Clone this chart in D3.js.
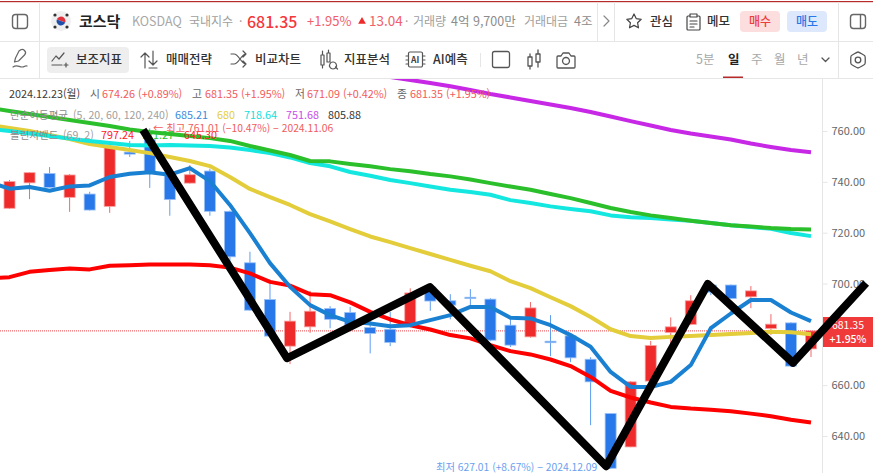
<!DOCTYPE html>
<html lang="ko"><head><meta charset="utf-8">
<script src="https://cdn.jsdelivr.net/npm/d3@7/dist/d3.min.js"></script>
<style>html,body{margin:0;padding:0;background:#fff;overflow:hidden}svg{display:block}text{font-family:"Noto Sans CJK KR","Noto Sans",sans-serif}</style>
</head><body><div id="chart"></div>
<script>
const opens=[729.6,739.6,743.3,733.9,735.2,730.35,751.7,756.6,743.5,739.5,744.25,728.4,708.15,693.7,675.35,682.95,690.2,688.6,682.7,682.0,683.6,698.6,693.2,694.6,693.85,683.6,679.0,677.3,679.4,670.2,648.85,635.7,661.6,680.75,683.9,699.4,699.4,694.75,682.3,684.5,674.26];
const closes=[740.1,743.6,737.8,742.7,728.9,753.6,750.9,743.85,733.0,742.8,728.4,710.5,689.5,679.3,685.2,689.1,685.9,683.6,680.35,676.8,696.3,693.1,691.5,694.05,677.7,675.75,690.4,676.7,670.75,661.3,627.3,661.3,675.6,682.95,693.2,696.6,694.1,697.1,684.0,667.5,681.35];
const highs=[740.7,743.85,745.8,743.1,736.1,754.6,756.1,761.01,745.4,746.6,745.15,728.7,712.5,701.6,688.85,697.1,691.1,690.8,685.6,688.85,698.1,700.15,695.8,697.8,694.2,686.4,692.7,687.55,679.7,671,648.9,661.6,677.4,686.65,695.4,700.15,699.6,699,687.95,684.8,681.35];
const lows=[729.3,733.2,737.6,728.2,728.7,727.8,749.8,737.6,726.65,739.3,726.65,708.5,689.3,679,668.3,680.6,682.4,682.4,672.5,675.35,683.2,689.25,685.9,691.1,677.3,675,678.7,671.4,669.05,644.25,627.01,635.6,661.4,675.75,683.6,695.4,693.85,690.3,679.7,667.1,671.09];
// moving averages and bands: first value sits one session left of the first candle
const ma5=[739.9,737.3,737.95,736.5,738.2,738.6,741.9,743.2,743.75,742.8,745.4,740.3,730.9,719.85,708.0,698.7,691.5,687.55,684.9,684.3,683.2,683.6,685.6,687.55,690.8,690.8,686.5,686.25,683.6,679.7,675.1,665.2,659.3,659.3,661.3,667.9,682.4,688.2,693.5,693.5,688.6,685.21];
const ma20=[762.4,761.2,760.0,758.4,756.85,754.9,753.7,752.5,751.3,749.8,748.2,746.2,741.9,737.2,734.0,730.9,727.3,724.4,721.4,718.5,716.3,713.9,711.6,709.3,707.0,704.8,700.9,698.2,694.6,691.1,686.8,682.0,679.3,678.6,679.0,679.3,679.7,680.1,680.5,681,680.8,680];
const ma60=[760.8,760,759,758,757,756.1,755.3,754.5,754.3,754.5,754.3,754.1,753.5,752.5,751.3,749.6,747.4,746.1,743.85,742.4,740.7,739.5,738.15,736.9,736.0,734.9,732.8,731.65,730.35,729.3,728.4,726.8,726.1,725.75,725.15,724.7,723.8,722.9,722.2,721.5,719.85,718.64];
const bandMid=[769.05,767.9,766.7,765.5,764.3,763.15,762,760.6,759.6,758.8,758,757.2,756.1,754.1,752.3,750.55,748.2,748.05,747,746.1,745,744.15,743.05,742.15,740.9,739.5,738.15,736.9,735.2,733.6,731.65,729.7,728.1,726.8,725.75,724.7,723.8,722.9,722.4,721.8,721.4,721.27];
const bandLow=[702.1,702.5,704.6,705.3,705.9,705.55,707,707.2,707.45,707.5,707.5,707.2,706.25,704,700.65,699.15,695.8,695.4,692.55,688.85,685.85,683.6,681.9,679.7,678.4,675.75,673.4,672.1,670.1,667.5,663.25,657.75,655.15,653.2,651.45,650.8,650.35,649.75,648.8,647.8,646.4,645.30];
// 120-day average: first value belongs to session 18
const ma120Start=18;
const ma120=[782.8,781.25,780.1,778.9,777.6,776.1,774.55,773.2,771.8,770.4,769.05,767.5,765.7,763.9,762.15,760.4,759,757.85,756.65,755.05,753.7,752.5,751.68];
// hand-drawn black zigzag over the chart
const zigIdx=[6.66,13.85,20.98,29.78,34.85,39.1,42.75];
const zigVal=[760.4,670.6,698.6,628.1,699.8,668.8,700.15];
const yTicks=[760,740,720,700,680,660,640];
const lastPrice=681.35;

const W=873,H=473;
const RED="#ee2a2a",BLUE="#2878ea",TXT="#f25b5b",GR="#8e8e8e",DK="#3a3a3a",LINE="#e6e6e6";
const svg=d3.select("#chart").append("svg").attr("width",W).attr("height",H);
const x=d3.scaleLinear().domain([0,40]).range([9.5,811]);
const y=d3.scaleLinear().domain([760,640]).range([131,436]);
svg.append("defs").append("clipPath").attr("id","plot").append("rect").attr("x",0).attr("y",79).attr("width",822).attr("height",H-79);
const plot=svg.append("g").attr("clip-path","url(#plot)");

// price guide
plot.append("line").attr("x1",0).attr("x2",822).attr("y1",y(lastPrice)).attr("y2",y(lastPrice)).attr("stroke","#e8464a").attr("stroke-width",1).attr("stroke-dasharray","1 1");

// candles
const idx=d3.range(opens.length);
plot.selectAll("line.w").data(idx).join("line").attr("class","w")
 .attr("x1",i=>x(i)).attr("x2",i=>x(i)).attr("y1",i=>y(highs[i])).attr("y2",i=>y(lows[i]))
 .attr("stroke",i=>closes[i]>=opens[i]?"#f26a6a":"#5f9df0").attr("stroke-width",1);
plot.selectAll("rect.b").data(idx).join("rect").attr("class","b")
 .attr("x",i=>x(i)-5.5).attr("width",11)
 .attr("y",i=>y(Math.max(opens[i],closes[i])))
 .attr("height",i=>Math.max(1.2,Math.abs(y(opens[i])-y(closes[i]))))
 .attr("fill",i=>closes[i]>=opens[i]?RED:BLUE)
 .attr("stroke",i=>closes[i]>=opens[i]?"#f7a0a0":"#9cc2f5").attr("stroke-width",.8);

// lines
const mk=(arr,start)=>d3.line().x((d,i)=>x(i+start)).y(d=>y(d))(arr);
[[bandLow,-1,"#ff0000"],[ma20,-1,"#e3cd3a"],[ma60,-1,"#14e6e0"],[bandMid,-1,"#2cbf2c"],[ma120,ma120Start,"#c628e6"],[ma5,-1,"#1a80d2"]].forEach(([a,s,c])=>{
 plot.append("path").attr("d",mk(a,s)).attr("fill","none").attr("stroke",c).attr("stroke-width",4).attr("stroke-linejoin","round");
});

// axis
const ax=svg.append("g").attr("transform","translate(822.5,0)").call(d3.axisRight(y).tickValues(yTicks).tickFormat(d3.format(".2f")).tickSize(5).tickPadding(4));
ax.select(".domain").attr("d","M0,79V473").attr("stroke",LINE);
ax.selectAll(".tick line").attr("stroke",LINE);
ax.selectAll(".tick text").attr("fill","#666").style("font-size","11px").style("font-family","'Noto Sans CJK KR'");

// helpers
const t=(s,xx,yy,size,fill,weight,anchor)=>svg.append("text").attr("x",xx).attr("y",yy).attr("font-size",size).attr("fill",fill).attr("font-weight",weight||400).attr("text-anchor",anchor||"start").text(s);
const ic=(d,sw,col)=>svg.append("path").attr("d",d).attr("fill","none").attr("stroke",col||"#555").attr("stroke-width",sw||1.3).attr("stroke-linejoin","round").attr("stroke-linecap","round");

// price tag
svg.append("rect").attr("x",823).attr("y",317).attr("width",50).attr("height",30).attr("fill","#f03a3a");
t("681.35",848,329,10.5,"#fff",400,"middle");t("+1.95%",848,343,10.5,"#fff",500,"middle");

// legend rows
const r1=98,fs=10.8;
t("2024.12.23(월)",9,r1,fs,DK);t("시",90,r1,fs,"#666");t("674.26 (+0.89%)",102,r1,fs,TXT);
t("고",192,r1,fs,"#666");t("681.35 (+1.95%)",205,r1,fs,TXT);t("저",295,r1,fs,"#666");t("671.09 (+0.42%)",307,r1,fs,TXT);
t("종",397,r1,fs,"#666");t("681.35 (+1.95%)",410,r1,fs,TXT);
const r2=119;
t("단순이동평균",10,r2,10.5,"#8c8c8c");t("(5, 20, 60, 120, 240)",73,r2,10.6,"#a0a0a0");
t("685.21",175,r2,fs,"#3a8ae0");t("680",217,r2,fs,"#e3cd3a");t("718.64",244,r2,fs,"#14e0dc");t("751.68",286,r2,fs,"#c94be8");t("805.88",328,r2,fs,"#333");
const r3=139;
t("볼린저밴드",10,r3,10.5,"#8c8c8c");t("(69, 2)",63,r3,10.6,"#a0a0a0");
t("797.24",101,r3,fs,"#ff2020");t("721.27",141,r3,fs,"#2cbf2c");t("645.30",184,r3,fs,"#ff2020");
t("← 최고 761.01 (−10.47%) − 2024.11.06",153,132,10.3,"#f25b5b");
t("최저 627.01 (+8.67%) − 2024.12.09",436,471,10.3,"#6a9fef");

// zigzag runs over the price tag too
svg.append("path").attr("d",d3.line().x((d,i)=>x(zigIdx[i])).y(d=>y(d))(zigVal)).attr("fill","none").attr("stroke","#000").attr("stroke-width",8).attr("stroke-linejoin","round");

// header chrome
svg.append("rect").attr("x",0).attr("y",0).attr("width",W).attr("height",78).attr("fill","#fff");
svg.append("rect").attr("x",0).attr("y",1).attr("width",W).attr("height",1.2).attr("fill","#b72a2a");
[[0,41.5,W,41.5],[0,78.5,W,78.5],[39.5,2,39.5,78],[838.5,2,838.5,78],[597.5,2,597.5,41],[614.5,2,614.5,41]].forEach(a=>svg.append("line").attr("x1",a[0]).attr("y1",a[1]).attr("x2",a[2]).attr("y2",a[3]).attr("stroke",LINE));

// panel icons
[[12.5,14.5],[850.5,14.5]].forEach(([a,b],k)=>{svg.append("rect").attr("x",a).attr("y",b).attr("width",15).attr("height",14).attr("rx",3).attr("fill","none").attr("stroke","#666").attr("stroke-width",1.4);
 svg.append("line").attr("x1",a+(k?10:5)).attr("x2",a+(k?10:5)).attr("y1",b).attr("y2",b+14).attr("stroke","#666").attr("stroke-width",1.4);});
// flag
svg.append("circle").attr("cx",61).attr("cy",21).attr("r",10).attr("fill","#efefef");
svg.append("path").attr("d",d3.arc()({innerRadius:0,outerRadius:4.5,startAngle:-1.2,endAngle:1.94})).attr("transform","translate(61,21)").attr("fill","#e0313c");
svg.append("path").attr("d",d3.arc()({innerRadius:0,outerRadius:4.5,startAngle:1.94,endAngle:5.08})).attr("transform","translate(61,21)").attr("fill","#1f4fa8");
[[55,15],[67,15],[55,27],[67,27]].forEach(p=>svg.append("circle").attr("cx",p[0]).attr("cy",p[1]).attr("r",1.6).attr("fill","#333"));

t("코스닥",79,26.5,15,"#222",700);
t("KOSDAQ",132,26,12.5,"#a8a8a8");
t("국내지수",189,26,12,"#a0a0a0");t("·",239,26,12,"#a0a0a0");
t("681.35",247,27.5,16,"#f5373b",500);
t("+1.95%",307,26,13,"#f2606a");
svg.append("path").attr("d",d3.symbol().type(d3.symbolTriangle).size(26)()).attr("transform","translate(362,21.5)").attr("fill","#ee2a2a");
t("13.04",369,26,13.5,"#f2606a");t("·",405,26,12,"#a0a0a0");
t("거래량",413,26,12,"#a0a0a0");t("4억 9,700만",451,26,12.5,"#8c8c8c");
t("거래대금",524,26,12,"#a0a0a0");t("4조",574,26,12.5,"#8c8c8c");
ic("M604,16l5,5l-5,5",1.2,"#888");
ic("M634,14l2.2,4.6l5,.7l-3.6,3.5l.9,5l-4.5,-2.4l-4.5,2.4l.9,-5l-3.6,-3.5l5,-.7z",1.2,"#444");
t("관심",650,25.5,12.5,"#333",500);
ic("M689,16h-1a1,1 0 0 0 -1,1v12a1,1 0 0 0 1,1h11a1,1 0 0 0 1,-1v-12a1,1 0 0 0 -1,-1h-1M690,14h7v3h-7zM690,21h7M690,24h7M690,27h4",1.2,"#444");
t("메모",707,25.5,12.5,"#333",500);
svg.append("rect").attr("x",740).attr("y",11).attr("width",40).attr("height",21).attr("rx",4).attr("fill","#fddede");
t("매수",760,25.5,12,"#ee3b3b",500,"middle");
svg.append("rect").attr("x",787).attr("y",11).attr("width",40).attr("height",21).attr("rx",4).attr("fill","#dde8fd");
t("매도",807,25.5,12,"#2a78e8",500,"middle");

// row 2
ic("M19,51c2,-2 4,-2 5.5,-.5s1.5,3 0,4.5l-6,6l-4,1l1,-4zM13,67c4,-3 6,0 9,0s3,-2 5,-1",1.2,"#666");
svg.append("rect").attr("x",47).attr("y",47).attr("width",82).attr("height",26).attr("rx",4).attr("fill","#eeeeee");
ic("M52,61l4,-5l3,3l5,-6M52,65h10M64,65h4M66,63v4",1.2,"#555");
t("보조지표",76,63.5,12.5,"#333",500);
ic("M145,54v14M141,57l4,-4l4,4M153,51v13M149,61l4,4l4,-4M149,68h8",1.2,"#555");
t("매매전략",166,63.5,12.5,"#333",500);
ic("M231,54h3c5,0 7,10 12,10M231,64h3c5,0 7,-10 12,-10M243,51l3,3l-3,3M243,61l3,3l-3,3",1.2,"#555");
t("비교차트",255,63.5,12.5,"#333",500);
ic("M321,55h3v10h-3zM322.5,51v4M322.5,65v3M327,53h3v9h-3zM328.5,50v3M333,62a3.5,3.5 0 1 0 .01,0M335.5,67l2,2",1.2,"#555");
t("지표분석",344,63.5,12.5,"#333",500);
ic("M410,52h11a1.5,1.5 0 0 1 1.5,1.5v12a1.5,1.5 0 0 1 -1.5,1.5h-11a1.5,1.5 0 0 1 -1.5,-1.5v-12a1.5,1.5 0 0 1 1.5,-1.5M406,56h2M406,60h2M406,64h2M423,56h2M423,60h2M423,64h2",1.2,"#555");
t("AI",411,63,8.5,"#444",700);
t("AI예측",433,63.5,12.5,"#333",500);
svg.append("line").attr("x1",480.5).attr("x2",480.5).attr("y1",53).attr("y2",67).attr("stroke",LINE);
svg.append("rect").attr("x",492.5).attr("y",51.5).attr("width",17).attr("height",16).attr("rx",2).attr("fill","none").attr("stroke","#555").attr("stroke-width",1.3);
ic("M528,57h4v9h-4zM530,54v3M530,66v3M536,54h4v8h-4zM538,50v4M538,62v5",1.3,"#555");
ic("M558,56h3l2,-3h6l2,3h3a1,1 0 0 1 1,1v10a1,1 0 0 1 -1,1h-16a1,1 0 0 1 -1,-1v-10a1,1 0 0 1 1,-1M566,57.5a3.5,3.5 0 1 0 .01,0",1.3,"#555");
t("5분",696,64,12.5,"#a8a8a8");t("일",728,64,12.5,"#222",700);t("주",751,64,12.5,"#a8a8a8");t("월",774,64,12.5,"#a8a8a8");t("년",797,64,12.5,"#a8a8a8");
svg.append("rect").attr("x",723).attr("y",76.5).attr("width",20).attr("height",1.5).attr("fill","#b72a2a");
ic("M822,58l3.5,3.5l3.5,-3.5",1.3,"#555");
// gear (hexagon ring)
const hex=d3.range(6).map(k=>[858+8*Math.sin(k*Math.PI/3),60-8*Math.cos(k*Math.PI/3)]);
ic(d3.line().curve(d3.curveCardinalClosed.tension(.6))(hex),1.3,"#555");
svg.append("circle").attr("cx",858).attr("cy",60).attr("r",2.8).attr("fill","none").attr("stroke","#555").attr("stroke-width",1.3);
</script></body></html>
